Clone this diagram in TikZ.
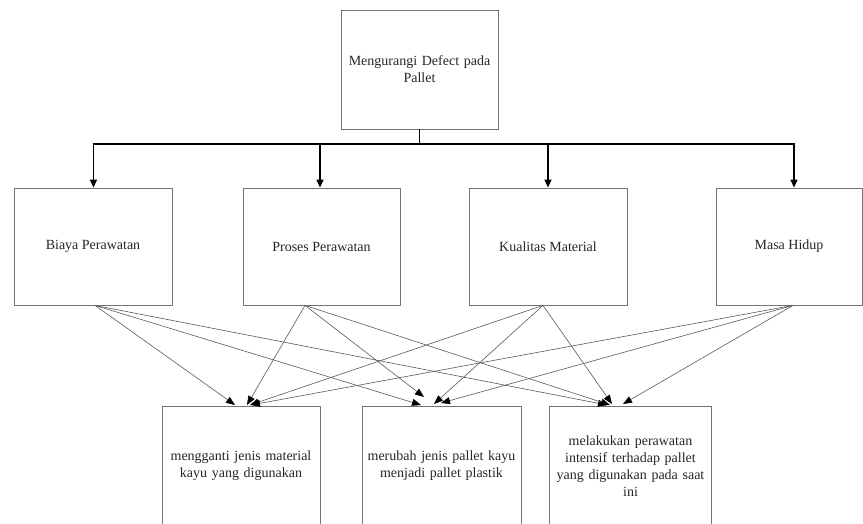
\documentclass[tikz,border=0pt]{standalone}
\usepackage{fontspec}
\setmainfont{Liberation Serif}
\usetikzlibrary{arrows.meta}
\begin{document}
\begin{tikzpicture}[x=1pt,y=-1pt,
  box/.style={draw=black!55,line width=0.8pt,fill=white,inner sep=2pt,align=center,
    font=\fontsize{14}{16.8}\selectfont,text=black!85},
  mainarrow/.style={draw=black,line width=1.3pt,-{Triangle[length=8pt,width=7pt]}},
  link/.style={draw=black!65,line width=0.6pt,-{Triangle[length=9pt,width=7pt,color=black]}}]
\useasboundingbox (0,0) rectangle (863,524);
\clip (0,0) rectangle (863,524);
% top
\node[box,minimum width=157pt,minimum height=119pt,text width=150pt] (top) at (419.5,69.5) {Mengurangi Defect pada\\Pallet};
% row 2
\node[box,minimum width=158pt,minimum height=117pt] (b1) at (93,246.5) {Biaya Perawatan};
\node[box,minimum width=157pt,minimum height=117pt] (b2) at (321.5,246.5) {Proses Perawatan};
\node[box,minimum width=158pt,minimum height=117pt] (b3) at (548,246.5) {Kualitas Material};
\node[box,minimum width=146pt,minimum height=117pt] (b4) at (789,246.5) {Masa Hidup};
% bottom
\node[box,minimum width=158pt,minimum height=120pt,text width=154pt] (ca) at (241,466) {mengganti jenis material\\kayu yang digunakan};
\node[box,minimum width=159pt,minimum height=120pt,text width=155pt] (cb) at (441.5,466) {merubah jenis pallet kayu\\menjadi pallet plastik};
\node[box,minimum width=159pt,minimum height=120pt,text width=158pt] (cc) at (630.5,466) {melakukan perawatan\\intensif terhadap pallet\\yang digunakan pada saat\\ini};
% tree connectors
\coordinate (j) at (419.5,144);
\draw[black,line width=1.3pt] (top.south) -- (j);
\draw[black,line width=1.3pt] (93.5,144) -- (794,144);
\draw[mainarrow] (j) -| ([xshift=0.5pt]b1.north);
\draw[mainarrow] (j) -| ([xshift=-1.5pt]b2.north);
\draw[mainarrow] (j) -| (b3.north);
\draw[mainarrow] (j) -| ([xshift=5pt]b4.north);
% sources
\coordinate (s1) at ([xshift=2pt]b1.south);
\coordinate (s2) at ([xshift=-16.5pt]b2.south);
\coordinate (s3) at ([xshift=-5pt]b3.south);
\coordinate (s4) at ([xshift=4pt]b4.south);
% targets
\coordinate (tA1) at (235,405);
\coordinate (tA2) at (247,405);
\coordinate (tA3) at (250,405);
\coordinate (tA4) at (251,405);
\coordinate (tB1) at (421,405);
\coordinate (tB2) at (424,397);
\coordinate (tB3) at (434,404);
\coordinate (tB4) at (441,403);
\coordinate (tC1) at (607,405);
\coordinate (tC2) at (610,405);
\coordinate (tC3) at (612,404);
\coordinate (tC4) at (623,404);
\draw[link] (s1) -- (tA1);
\draw[link] (s1) -- (tB1);
\draw[link] (s1) -- (tC1);
\draw[link] (s2) -- (tA2);
\draw[link] (s2) -- (tB2);
\draw[link] (s2) -- (tC2);
\draw[link] (s3) -- (tA3);
\draw[link] (s3) -- (tB3);
\draw[link] (s3) -- (tC3);
\draw[link] (s4) -- (tA4);
\draw[link] (s4) -- (tB4);
\draw[link] (s4) -- (tC4);
\end{tikzpicture}
\end{document}
